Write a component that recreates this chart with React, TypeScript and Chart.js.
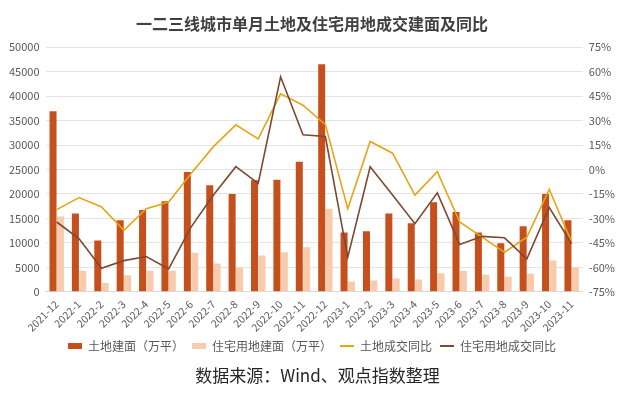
import React, { useEffect, useRef } from "react";
import { Chart, registerables } from "chart.js";

Chart.register(...registerables);

const categories = [
  "2021-12", "2022-1", "2022-2", "2022-3", "2022-4", "2022-5", "2022-6", "2022-7",
  "2022-8", "2022-9", "2022-10", "2022-11", "2022-12", "2023-1", "2023-2", "2023-3",
  "2023-4", "2023-5", "2023-6", "2023-7", "2023-8", "2023-9", "2023-10", "2023-11",
];

const landArea = [
  36900, 16000, 10500, 14600, 16700, 18500, 24500, 21800,
  20000, 22800, 22900, 26600, 46500, 12100, 12400, 16000,
  14000, 18300, 16300, 12100, 9900, 13400, 20000, 14600,
];

const resiArea = [
  15400, 4300, 1800, 3400, 4300, 4300, 8000, 5800,
  5000, 7400, 8100, 9100, 17000, 2100, 2300, 2700,
  2500, 3800, 4300, 3500, 3100, 3700, 6400, 5000,
];

const landYoy = [
  -24.6, -17.2, -23, -37.3, -24, -19.9, -2.5, 14,
  27.4, 18.8, 46.4, 39.4, 27.5, -24, 17.2, 10,
  -15.7, -1.3, -32.2, -41.5, -50.7, -41.5, -12.2, -44.5,
];

const resiYoy = [
  -32.2, -42.5, -60.6, -55.9, -53.4, -61, -35.3, -15.7,
  1.7, -8.5, 56.9, 21.3, 20.2, -53.8, 1.7, -15.7,
  -33.2, -14.3, -46, -41, -41.9, -54.8, -23.3, -45.6,
];

const seriesNames = ["土地建面（万平）", "住宅用地建面（万平）", "土地成交同比", "住宅用地成交同比"];
const titleText = "一二三线城市单月土地及住宅用地成交建面及同比";
const sourceText = "数据来源：Wind、观点指数整理";

const FONT = "'Noto Sans CJK SC', 'Noto Sans', sans-serif";
const C_LAND = "#C5501C";
const C_RESI = "#F8CBAD";
const C_LAND_YOY = "#E7A417";
const C_RESI_YOY = "#7B4A30";

export default function App() {
  const ref = useRef<HTMLCanvasElement | null>(null);

  useEffect(() => {
    if (!ref.current) return;
    const chart = new Chart(ref.current, {
      type: "bar",
      data: {
        labels: categories,
        datasets: [
          {
            type: "line",
            label: seriesNames[2],
            data: landYoy,
            borderColor: C_LAND_YOY,
            backgroundColor: C_LAND_YOY,
            borderWidth: 1.6,
            pointRadius: 0,
            tension: 0,
            yAxisID: "y1",
            order: 1,
          },
          {
            type: "line",
            label: seriesNames[3],
            data: resiYoy,
            borderColor: C_RESI_YOY,
            backgroundColor: C_RESI_YOY,
            borderWidth: 1.6,
            pointRadius: 0,
            tension: 0,
            yAxisID: "y1",
            order: 0,
          },
          {
            type: "bar",
            label: seriesNames[0],
            data: landArea,
            backgroundColor: C_LAND,
            yAxisID: "y",
            categoryPercentage: 0.66,
            barPercentage: 0.95,
            order: 3,
          },
          {
            type: "bar",
            label: seriesNames[1],
            data: resiArea,
            backgroundColor: C_RESI,
            yAxisID: "y",
            categoryPercentage: 0.66,
            barPercentage: 0.95,
            order: 4,
          },
        ],
      },
      options: {
        animation: false,
        responsive: false,
        maintainAspectRatio: false,
        layout: { padding: { left: 3, right: 14, top: 4, bottom: 32 } },
        plugins: {
          title: {
            display: true,
            text: titleText,
            color: "#404040",
            font: { family: FONT, size: 16, weight: "bold" },
            padding: { top: 10, bottom: 14 },
          },
          legend: {
            position: "bottom",
            labels: {
              color: "#595959",
              font: { family: FONT, size: 12 },
              usePointStyle: true,
              pointStyleWidth: 14,
              boxHeight: 6,
              padding: 8,
              generateLabels: (ch: any) => {
                const order = [2, 3, 0, 1];
                return order.map((i) => {
                  const ds = ch.data.datasets[i];
                  const isLine = ds.type === "line";
                  return {
                    text: ds.label,
                    fillStyle: isLine ? ds.borderColor : ds.backgroundColor,
                    strokeStyle: isLine ? ds.borderColor : ds.backgroundColor,
                    lineWidth: isLine ? 2 : 0,
                    pointStyle: isLine ? "line" : "rect",
                    hidden: false,
                    datasetIndex: i,
                    fontColor: "#595959",
                  };
                });
              },
            },
          },
          tooltip: { enabled: false },
        },
        scales: {
          x: {
            grid: { display: false },
            border: { display: true, color: "#D9D9D9" },
            ticks: {
              color: "#595959",
              font: { family: FONT, size: 10.5 },
              maxRotation: 45,
              minRotation: 45,
              autoSkip: false,
              padding: -2,
            },
          },
          y: {
            position: "left",
            min: 0,
            max: 50000,
            ticks: {
              stepSize: 5000,
              color: "#595959",
              font: { family: FONT, size: 11 },
              padding: 6,
              callback: (v: any) => String(v),
            },
            grid: { color: "#E3E3E3", drawTicks: false },
            border: { display: false },
          },
          y1: {
            position: "right",
            min: -75,
            max: 75,
            ticks: {
              stepSize: 15,
              color: "#595959",
              font: { family: FONT, size: 11 },
              padding: 6,
              callback: (v: any) => `${v}%`,
            },
            grid: { display: false, drawTicks: false },
            border: { display: false },
          },
        },
      },
    });
    return () => chart.destroy();
  }, []);

  return (
    <div style={{ position: "fixed", left: 0, top: 0, width: 635, height: 394, background: "#fff" }}>
      <canvas ref={ref} width={635} height={394} style={{ width: 635, height: 394, display: "block" }} />
      <div
        style={{
          position: "absolute",
          left: 0,
          width: 635,
          top: 362,
          textAlign: "center",
          fontFamily: FONT,
          fontSize: 17,
          color: "#262626",
        }}
      >
        {sourceText}
      </div>
    </div>
  );
}
